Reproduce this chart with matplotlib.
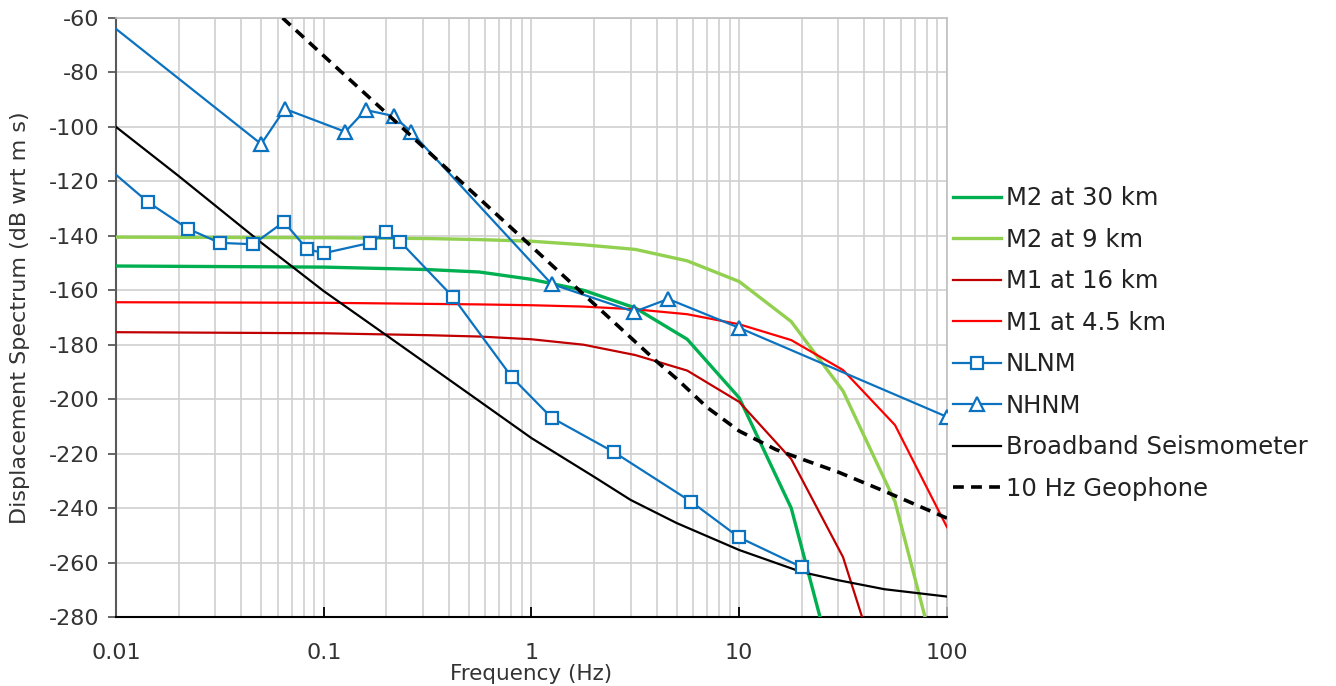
import numpy as np
import matplotlib
matplotlib.use("Agg")
import matplotlib.pyplot as plt
from matplotlib.ticker import FixedLocator, NullFormatter, LogLocator

plt.rcParams['axes.unicode_minus'] = False

# frequency grid used by the M1/M2 event spectra (Hz)
f_evt = [0.01, 0.1, 0.316, 0.562, 1.0, 1.78, 3.16, 5.62, 10.0, 17.8, 31.6, 56.2, 100.0]
m2_30km = [-151.1, -151.5, -152.4, -153.3, -156.0, -160.0, -166.5, -178.0, -199.5, -240.0, -312.0, -340.0, -360.0]
m2_9km = [-140.5, -140.7, -141.0, -141.4, -142.0, -143.3, -145.0, -149.2, -156.8, -171.5, -197.0, -237.6, -311.0]
m1_16km = [-175.4, -175.8, -176.5, -177.0, -178.0, -180.0, -183.8, -189.5, -201.0, -222.0, -258.0, -318.0, -340.0]
m1_45km = [-164.4, -164.6, -165.0, -165.2, -165.5, -166.0, -167.0, -168.8, -172.5, -178.3, -189.3, -209.5, -247.0]

# Peterson noise models
f_nlnm = [0.0099, 0.0143, 0.0222, 0.0316, 0.0457, 0.0643, 0.0833, 0.1, 0.167, 0.2, 0.233, 0.417, 0.806, 1.25, 2.5, 5.88, 10.0, 20.0]
nlnm = [-117.3, -127.7, -137.4, -142.6, -143.1, -134.9, -144.9, -146.4, -142.6, -138.7, -142.1, -162.3, -192.0, -206.8, -219.5, -237.7, -250.8, -261.7]
f_nhnm = [0.01, 0.05, 0.065, 0.127, 0.159, 0.217, 0.263, 1.25, 3.125, 4.55, 10.0, 100.0]
nhnm = [-64.0, -106.3, -93.4, -101.8, -93.8, -96.0, -101.8, -157.7, -167.9, -163.2, -173.8, -206.5]

# instrument self-noise
f_bb = [0.01, 0.02, 0.05, 0.1, 0.2, 0.5, 1.0, 2.0, 3.0, 5.0, 10.0, 20.0, 30.0, 50.0, 100.0]
broadband = [-100.0, -118.0, -142.5, -160.3, -176.5, -198.0, -214.3, -228.5, -237.0, -245.5, -255.4, -263.5, -266.5, -269.8, -272.5]
f_geo = [0.0634, 0.1, 0.2, 0.5, 1.0, 2.0, 4.0, 5.0, 7.0, 10.0, 15.0, 20.0, 30.0, 50.0, 100.0]
geophone = [-60.0, -73.9, -94.9, -122.8, -143.9, -165.0, -186.1, -192.5, -203.0, -211.7, -218.5, -222.0, -226.8, -233.8, -243.7]

blue = "#0B72C0"
txt = "#333333"

fig = plt.figure(figsize=(13.36, 6.86), dpi=100)
ax = fig.add_axes([0.0868, 0.1006, 0.6220, 0.8732])

ax.plot(f_evt, m2_30km, color="#00B050", lw=2.4, label="M2 at 30 km", zorder=3)
ax.plot(f_evt, m2_9km, color="#92D050", lw=2.4, label="M2 at 9 km", zorder=3)
ax.plot(f_evt, m1_16km, color="#C00000", lw=1.6, label="M1 at 16 km", zorder=3)
ax.plot(f_evt, m1_45km, color="#FF0000", lw=1.6, label="M1 at 4.5 km", zorder=3)
ax.plot(f_nlnm, nlnm, color=blue, lw=1.6, marker="s", ms=8, mfc="white", mec=blue, mew=1.6,
        markevery=list(range(1, len(f_nlnm))), label="NLNM", zorder=4)
ax.plot(f_nhnm, nhnm, color=blue, lw=1.6, marker="^", ms=10, mfc="white", mec=blue, mew=1.6,
        markevery=list(range(1, len(f_nhnm))), label="NHNM", zorder=4)
ax.plot(f_bb, broadband, color="black", lw=1.6, label="Broadband Seismometer", zorder=3)
ax.plot(f_geo, geophone, color="black", lw=2.6, ls=(0, (3, 2)), label="10 Hz Geophone", zorder=5)

ax.set_xscale("log")
ax.set_xlim(0.01, 100)
ax.set_ylim(-280, -60)
ax.set_yticks(np.arange(-280, -59, 20))
ax.xaxis.set_major_locator(FixedLocator([0.01, 0.1, 1, 10, 100]))
ax.xaxis.set_minor_locator(LogLocator(base=10, subs=np.arange(2, 10)))
ax.xaxis.set_minor_formatter(NullFormatter())
ax.set_xticklabels(["0.01", "0.1", "1", "10", "100"])

ax.grid(True, which="major", color="#d0d0d0", lw=1.2)
ax.grid(True, which="minor", axis="x", color="#d0d0d0", lw=1.2)
ax.set_axisbelow(True)

ax.tick_params(axis="x", which="major", direction="in", length=7, width=1.3, colors="black",
               pad=19, labelsize=16, labelcolor=txt)
ax.tick_params(axis="x", which="minor", length=0)
ax.tick_params(axis="y", direction="out", length=6, width=1.3, colors="#595959",
               labelsize=16, labelcolor=txt, pad=6)

for s in ["top", "right"]:
    ax.spines[s].set_color("#bfbfbf")
    ax.spines[s].set_linewidth(1.2)
ax.spines["left"].set_color("#595959")
ax.spines["left"].set_linewidth(1.5)
ax.spines["bottom"].set_color("black")
ax.spines["bottom"].set_linewidth(1.5)

ax.set_xlabel("Frequency (Hz)", fontsize=15.5, color=txt)
ax.xaxis.set_label_coords(0.5, -0.078)
ax.set_ylabel("Displacement Spectrum (dB wrt m s)", fontsize=16, color=txt)
ax.yaxis.set_label_coords(-0.103, 0.5)

leg = ax.legend(loc="upper left", bbox_to_anchor=(0.995, 0.735), frameon=False,
                fontsize=17.5, handlelength=2.0, handletextpad=0.2, labelspacing=0.72,
                borderaxespad=0.0)
for t in leg.get_texts():
    t.set_color("#222222")

fig.savefig("out.png", dpi=100)
